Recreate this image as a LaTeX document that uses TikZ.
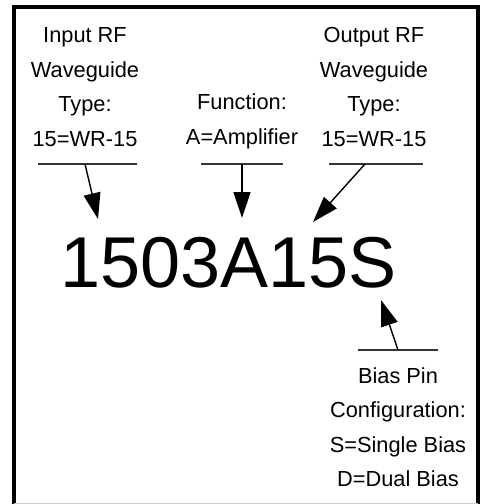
\documentclass[tikz,border=0pt]{standalone}
\usepackage{fontspec}
\setmainfont{Liberation Sans}
\usetikzlibrary{arrows.meta}
\tikzset{
  lbl/.style={align=center, inner sep=0pt, anchor=base, font=\fontsize{21.8}{34.5}\selectfont},
  uline/.style={draw=black!80, line width=1.1pt},
  ptr/.style={draw=black, line width=1.4pt, -{Triangle[length=26pt,width=17pt]}},
}
\begin{document}
\begin{tikzpicture}[x=1pt,y=-1pt]
\useasboundingbox (0,0) rectangle (483,504);
% frame
\draw[line width=4pt] (14,505) -- (14,7) -- (478,7) -- (478,505);
\draw[black!20, line width=1pt] (14,503.5) -- (478,503.5);
% labels (anchored at the baseline of their last line)
\node[lbl] (inp) at (85,146) {Input RF\\Waveguide\\Type:\\15=WR-15};
\node[lbl] (fun) at (242,144) {Function:\\A=Amplifier};
\node[lbl] (out) at (374,146) {Output RF\\Waveguide\\Type:\\15=WR-15};
\node[lbl] (bias) at (398,486.5) {Bias Pin\\Configuration:\\S=Single Bias\\D=Dual Bias};
% model number
\node[inner sep=0pt, anchor=base west, font=\fontsize{72}{72}\selectfont] (model) at (60,287) {1503A15S};
% underlines
\coordinate (u1a) at (38,164); \coordinate (u1b) at (137,164);
\coordinate (u2a) at (201,164); \coordinate (u2b) at (283,164);
\coordinate (u3a) at (329,164); \coordinate (u3b) at (423,164);
\coordinate (u4a) at (358,350); \coordinate (u4b) at (438,350);
\draw[uline] (u1a) -- (u1b);
\draw[uline] (u2a) -- (u2b);
\draw[uline] (u3a) -- (u3b);
\draw[uline] (u4a) -- (u4b);
% arrows
\coordinate (s1) at (85,164);  \coordinate (t1) at (98,219);
\coordinate (s2) at (242,164); \coordinate (t2) at (242,218);
\coordinate (s3) at (365,164); \coordinate (t3) at (313,222);
\coordinate (s4) at (398,350); \coordinate (t4) at (381,300);
\draw[ptr] (s1) -- (t1);
\draw[ptr] (s2) -- (t2);
\draw[ptr] (s3) -- (t3);
\draw[ptr] (s4) -- (t4);
\end{tikzpicture}
\end{document}
